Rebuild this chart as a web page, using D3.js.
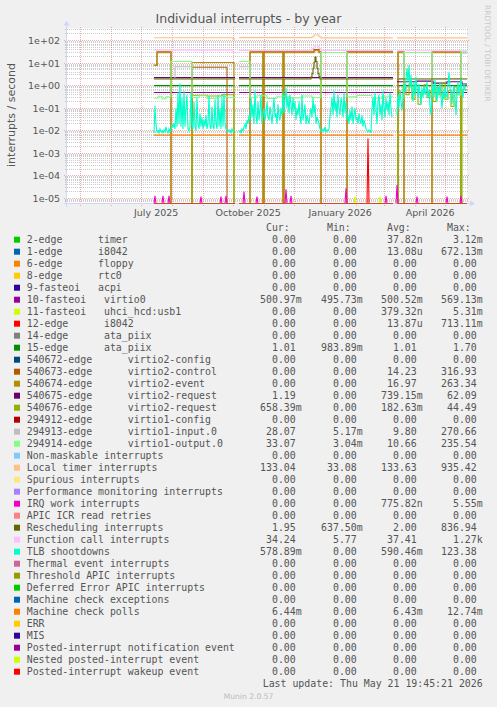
<!DOCTYPE html>
<html><head><meta charset="utf-8">
<script src="https://cdn.jsdelivr.net/npm/d3@7/dist/d3.min.js"></script>
<style>
body{margin:0;background:#F0F0F0;}
svg{display:block}
text{white-space:pre}
</style>
</head><body>
<svg id="chart" width="497" height="707"></svg>
<script>
// ---------- texts ----------
const titleText = "Individual interrupts - by year";
const yAxisLabel = "interrupts / second";
const sideText = "RRDTOOL / TOBI OETIKER";
const footerText = "Munin 2.0.57";
const lastUpdate = "Last update: Thu May 21 19:45:21 2026";

// ---------- axes ----------
const startDate = new Date(2025, 3, 17, 19, 45);   // 400-day window
const endDate = new Date(2026, 4, 22, 19, 45);
const yTickValues = [1e2, 1e1, 1e0, 1e-1, 1e-2, 1e-3, 1e-4, 1e-5];
const yTickLabels = ["1e+02", "1e+01", "1e+00", "1e-01", "1e-02", "1e-03", "1e-04", "1e-05"];
const xTickLabels = ["July 2025", "October 2025", "January 2026", "April 2026"];
const xTickDates = ["2025-07-16", "2025-10-16", "2026-01-16", "2026-04-16"];

// ---------- legend ----------
const seriesLabels = [
  "2-edge      timer", "1-edge      i8042", "6-edge      floppy", "8-edge      rtc0",
  "9-fasteoi   acpi", "10-fasteoi   virtio0", "11-fasteoi   uhci_hcd:usb1", "12-edge      i8042",
  "14-edge      ata_piix", "15-edge      ata_piix",
  "540672-edge      virtio2-config", "540673-edge      virtio2-control", "540674-edge      virtio2-event",
  "540675-edge      virtio2-request", "540676-edge      virtio2-request", "294912-edge      virtio1-config",
  "294913-edge      virtio1-input.0", "294914-edge      virtio1-output.0",
  "Non-maskable interrupts", "Local timer interrupts", "Spurious interrupts",
  "Performance monitoring interrupts", "IRQ work interrupts", "APIC ICR read retries",
  "Rescheduling interrupts", "Function call interrupts", "TLB shootdowns", "Thermal event interrupts",
  "Threshold APIC interrupts", "Deferred Error APIC interrupts", "Machine check exceptions",
  "Machine check polls", "ERR", "MIS", "Posted-interrupt notification event",
  "Nested posted-interrupt event", "Posted-interrupt wakeup event"
];
const seriesColors = [
  "#00CC00", "#0066B3", "#FF8000", "#FFCC00", "#330099", "#990099", "#CCFF00", "#FF0000",
  "#808080", "#008F00", "#00487D", "#B35A00", "#B38F00", "#6B006B", "#8FB300", "#B30000",
  "#BEBEBE", "#80FF80", "#80C9FF", "#FFC080", "#FFE680", "#AA80FF", "#EE00CC", "#FF8080",
  "#666600", "#FFBFFF", "#00FFCC", "#CC6699", "#999900", "#00CC00", "#0066B3", "#FF8000",
  "#FFCC00", "#330099", "#990099", "#CCFF00", "#FF0000"
];
const curValues = ["0.00","0.00","0.00","0.00","0.00","500.97m","0.00","0.00","0.00","1.01","0.00","0.00","0.00","1.19","658.39m","0.00","28.07","33.07","0.00","133.04","0.00","0.00","0.00","0.00","1.95","34.24","578.89m","0.00","0.00","0.00","0.00","6.44m","0.00","0.00","0.00","0.00","0.00"];
const minValues = ["0.00","0.00","0.00","0.00","0.00","495.73m","0.00","0.00","0.00","983.89m","0.00","0.00","0.00","0.00","0.00","0.00","5.17m","3.04m","0.00","33.08","0.00","0.00","0.00","0.00","637.50m","5.77","0.00","0.00","0.00","0.00","0.00","0.00","0.00","0.00","0.00","0.00","0.00"];
const avgValues = ["37.82n","13.08u","0.00","0.00","0.00","500.52m","379.32n","13.87u","0.00","1.01","0.00","14.23","16.97","739.15m","182.63m","0.00","9.80","10.66","0.00","133.63","0.00","0.00","775.82n","0.00","2.00","37.41","590.46m","0.00","0.00","0.00","0.00","6.43m","0.00","0.00","0.00","0.00","0.00"];
const maxValues = ["3.12m","672.13m","0.00","0.00","0.00","569.13m","5.31m","713.11m","0.00","1.70","0.00","316.93","263.34","62.09","44.49","0.00","270.66","235.54","0.00","935.42","0.00","0.00","5.55m","0.00","836.94","1.27k","123.38","0.00","0.00","0.00","0.00","12.74m","0.00","0.00","0.00","0.00","0.00"];

// ---------- data (day = days since window start; step series: value holds until next day; null = no data) ----------
const dataEndDay = 400;
const virtio0Days = [87, 168, 172, 326, 330];
const virtio0Vals = [0.5, null, 0.5, null, 0.5];
const ataPiixDays = [87, 168, 172, 326, 330];
const ataPiixVals = [1.01, null, 1.01, null, 1.01];
const mcePollDays = [87, 168, 172, 326, 330];
const mcePollVals = [0.0064, null, 0.0064, null, 0.0064];
const localTimerDays = [87, 166, 168, 172, 245, 247, 252, 254, 326, 330];
const localTimerVals = [135, 120, null, 137, 150, 180, 150, 133, null, 133];
const funcCallDays = [87, 166, 168, 172, 245, 247, 252, 254, 326, 330];
const funcCallVals = [38, 30, null, 37, 45, 58, 45, 37, null, 36];
const reschedDays = [87, 168, 172, 244, 245, 246, 247, 248, 249, 250, 251, 252, 253, 326, 330];
const reschedVals = [2.0, null, 2.0, 2.4, 3.5, 6, 11, 19, 12, 6, 3.5, 2.5, 2.0, null, 2.0];
const v2controlDays = [87, 90, 104, 125, 160, 168, 172, 183, 196, 197, 216, 217, 247, 252, 254, 280, 326, 330, 331, 337, 365, 394];
const v2controlVals = [8, 32, 0, 6.6, 0, null, 0, 32, 0, 32, 0, 32, 40, 32, 0, 32, null, 0, 32, 0, 32, 0];
const v2eventDays = [87, 90, 104, 125, 167, 168, 172, 183, 196, 197, 216, 217, 247, 252, 254, 280, 326, 330, 331, 337, 365, 394];
const v2eventVals = [8, 29, 0, 10.7, 0, null, 0, 29, 0, 29, 0, 29, 36, 29, 0, 29, null, 0, 29, 0, 29, 0];
const v2requestADays = [87, 168, 172, 326, 330, 350, 366, 380, 395];
const v2requestAVals = [2.3, null, 2.3, null, 1.5, 1.6, 1.3, 1.5, 1.2];
const v2requestBDays = [87, 125, 140, 155, 167, 168, 172, 326, 330, 331, 333, 336, 339, 342, 345, 348, 351, 354, 357, 360, 363, 366, 369, 372, 375, 378, 381, 384, 387, 390, 394, 395];
const v2requestBVals = [0, 0.38, 0.35, 0.4, 0, null, 0, null, 0, 0.6, 0.3, 0.9, 0.4, 1.2, 0.25, 0.7, 0.15, 0.5, 1.1, 0.3, 0.6, 0.2, 0.8, 0.4, 1.3, 0.25, 0.6, 0.12, 0.9, 0.4, 0, 0.66];
const v1inputDays = [87, 108, 125, 168, 172, 183, 254, 280, 326, 330, 337, 365, 394];
const v1inputVals = [2.1, 7, 2.1, null, 7, 2.1, 30, 2.1, null, 2.1, 30, 2.1, 28];
const v1outputDays = [87, 91, 95, 99, 104, 125, 132, 140, 150, 160, 168, 172, 183, 190, 200, 210, 222, 235, 245, 254, 280, 290, 305, 315, 326, 330, 337, 365, 375, 385, 394];
const v1outputVals = [0.28, 0.34, 0.26, 0.32, 12, 0.3, 0.36, 0.27, 0.33, 0.3, null, 12, 0.3, 0.36, 0.27, 0.34, 0.29, 0.35, 0.3, 30, 0.32, 0.37, 0.28, 0.34, null, 0.3, 30, 0.35, 0.28, 0.4, 33];
// noisy series, one value per day from day 87 (null = no data)
const tlbStartDay = 87;
const tlbValues = [
  0.008,0.13,0.02,0.009,0.01,0.008,0.012,0.009,0.01,0.008,
  0.011,0.009,0.015,0.01,0.008,0.012,0.009,0.01,0.02,0.015,
  0.02,0.012,0.1,0.015,0.5,0.02,1.3,0.015,0.3,0.012,
  0.6,0.015,0.1,0.4,0.012,0.01,0.015,0.5,0.02,0.012,
  0.2,0.015,0.01,0.3,0.02,0.012,0.06,0.015,0.04,0.012,
  0.03,0.015,0.05,0.012,0.02,0.35,0.015,0.012,0.12,0.015,
  0.012,0.25,0.02,0.012,0.4,0.015,0.1,0.012,0.3,0.015,
  0.5,0.02,0.012,0.01,0.009,0.011,0.01,0.008,0.012,0.009,
  0.01,
  null,null,null,null,
  0.009,0.01,0.008,0.012,0.01,0.015,0.02,0.012,0.03,0.02,
  0.05,0.03,0.3,0.04,0.15,0.02,0.6,0.05,0.02,0.2,
  0.03,0.08,0.4,0.02,0.05,0.1,0.03,0.06,0.2,0.04,
  0.03,0.12,0.05,0.02,0.08,0.3,0.04,0.06,0.02,0.15,
  0.04,0.03,0.1,0.05,0.5,0.06,0.25,0.8,0.1,0.3,
  0.06,0.4,0.15,0.05,0.3,0.08,0.2,0.03,0.1,0.05,
  0.2,0.04,0.02,0.4,0.03,0.06,0.15,0.02,0.05,0.03,
  0.02,0.05,0.1,0.04,0.3,0.06,0.15,0.02,0.04,0.03,
  0.02,0.012,0.01,0.009,0.012,0.01,0.015,0.009,0.011,0.01,
  0.012,0.04,0.1,0.3,0.05,0.6,0.08,0.2,0.04,0.4,
  0.1,0.05,0.3,0.15,0.04,0.5,0.06,0.2,0.03,0.05,
  0.02,0.08,0.03,0.12,0.02,0.05,0.1,0.03,0.04,0.02,
  0.06,0.03,0.02,0.05,0.015,0.03,0.02,0.012,0.01,0.009,
  0.011,0.01,0.008,0.1,0.3,0.05,0.5,0.1,0.02,0.2,
  0.4,0.05,0.15,0.03,0.6,0.1,0.04,0.3,0.08,0.2,
  0.05,0.5,0.1,0.04,
  null,null,null,null,
  0.05,0.4,0.1,0.6,0.2,0.08,0.3,1.2,0.5,2,
  6,1.5,8,0.8,3,0.5,0.2,1.5,0.4,2.5,
  0.7,0.3,1.2,0.5,0.15,0.8,0.3,1,0.4,0.6,
  1.5,0.3,0.7,0.12,0.05,0.4,1.2,0.3,2,0.6,
  0.2,0.9,0.4,1.5,0.3,0.1,0.6,0.25,0.8,0.4,
  0.3,1.2,4,0.8,0.5,0.15,0.6,1,0.3,0.05,
  0.5,1.5,0.4,0.8,2,0.6,0.3,1.2,0.7,0.58
];
// spikes (single-day peaks)
const irqWorkDays = [88, 96, 102, 134, 154, 159, 177, 190, 219, 224, 279, 319, 330, 350, 380, 394];
const irqWorkVals = [1.3e-5, 1.3e-5, 1.3e-5, 1.2e-5, 1.2e-5, 1.3e-5, 2e-5, 1.2e-5, 2.5e-5, 1.3e-5, 2.8e-5, 1.3e-5, 3.9e-5, 1.2e-5, 1.2e-5, 1.3e-5];
const uhciDays = [288, 313];
const uhciVals = [1.2e-5, 1.2e-5];
const i8042Days = [301];
const i8042Vals = [0.0045];
// zero baseline for all idle series over the data range
const idleDays = [87, 168, 172, 326, 330];
const idleVals = [0, null, 0, null, 0];

// ---------- layout ----------
const svg = d3.select("#chart");
const W = 497, H = 707;
const pl = 67, pr = 467, pt = 28.5, pb = 203.5;
const gridColor = "rgba(143,143,143,0.45)";
const mgridColor = "rgba(222,79,79,0.45)";
const axisColor = "#CFD6F8";
const fontColor = "#555";

const x = d3.scaleTime().domain([startDate, endDate]).range([pl, pr]);
const y = d3.scaleLog().domain([Math.pow(10, -5.231), Math.pow(10, 2.542)]).range([pb, pt]).clamp(true);
const dayToDate = d => d3.timeMinute.offset(startDate, d * 1440);
const yv = v => (v <= 0 ? pb : y(v));
const snap = v => Math.round(v - 0.5) + 0.5;

svg.append("rect").attr("width", W).attr("height", H).attr("fill", "#F0F0F0");
svg.append("rect").attr("x", pl).attr("y", pt).attr("width", pr - pl).attr("height", pb - pt).attr("fill", "#FFFFFF");

// grid
const gGrid = svg.append("g").attr("shape-rendering", "crispEdges");
const minorY = [];
for (let k = -6; k <= 2; k++) for (let m = 2; m <= 9; m++) minorY.push(m * Math.pow(10, k));
minorY.filter(v => y(v) > pt && y(v) < pb).forEach(v => {
  gGrid.append("line").attr("x1", pl - 2).attr("x2", pr + 2).attr("y1", snap(y(v))).attr("y2", snap(y(v)))
    .attr("stroke", gridColor).attr("stroke-width", 1).attr("stroke-dasharray", "1,1");
});
const months = d3.timeMonth.range(startDate, endDate);
months.forEach(d => {
  gGrid.append("line").attr("x1", snap(x(d))).attr("x2", snap(x(d))).attr("y1", pt - 2).attr("y2", pb + 2)
    .attr("stroke", mgridColor).attr("stroke-width", 1).attr("stroke-dasharray", "1,1");
});
yTickValues.forEach(v => {
  gGrid.append("line").attr("x1", pl - 3).attr("x2", pr + 2).attr("y1", snap(y(v))).attr("y2", snap(y(v)))
    .attr("stroke", mgridColor).attr("stroke-width", 1).attr("stroke-dasharray", "1,1");
});

// axes
const gAxis = svg.append("g");
gAxis.append("line").attr("x1", pl - 0.5).attr("x2", pl - 0.5).attr("y1", pb + 3).attr("y2", pt - 4)
  .attr("stroke", axisColor).attr("shape-rendering", "crispEdges");
gAxis.append("line").attr("x1", pl - 3).attr("x2", pr + 4).attr("y1", pb).attr("y2", pb)
  .attr("stroke", axisColor).attr("shape-rendering", "crispEdges");
gAxis.append("path").attr("d", `M${pl - 3.5},${pt - 3} L${pl - 0.5},${pt - 8} L${pl + 2.5},${pt - 3} Z`).attr("fill", axisColor);
gAxis.append("path").attr("d", `M${pr + 3},${pb - 3} L${pr + 8},${pb} L${pr + 3},${pb + 3} Z`).attr("fill", axisColor);

// tick labels
yTickValues.forEach((v, i) => {
  svg.append("text").attr("x", 60).attr("y", y(v) + 3.4).attr("text-anchor", "end")
    .attr("font-family", "DejaVu Sans").attr("font-size", 9.5).attr("fill", fontColor).text(yTickLabels[i]);
});
xTickDates.forEach((d, i) => {
  svg.append("text").attr("x", x(d3.isoParse(d + "T00:00:00"))).attr("y", 215.8).attr("text-anchor", "middle")
    .attr("font-family", "DejaVu Sans").attr("font-size", 9.5).attr("fill", fontColor).text(xTickLabels[i]);
});

// title and labels
svg.append("text").attr("x", 248.5).attr("y", 22.8).attr("text-anchor", "middle")
  .attr("font-family", "DejaVu Sans").attr("font-size", 12.5).attr("fill", fontColor).text(titleText);
svg.append("text").attr("transform", "translate(14.5,115) rotate(-90)").attr("text-anchor", "middle")
  .attr("font-family", "DejaVu Sans").attr("font-size", 11).attr("fill", fontColor).text(yAxisLabel);
svg.append("text").attr("transform", "translate(485,5) rotate(90)").attr("text-anchor", "start")
  .attr("font-family", "DejaVu Sans").attr("font-size", 7.5).attr("fill", "#C8C8C8").text(sideText);

// ---------- series ----------
const gData = svg.append("g");
svg.append("clipPath").attr("id", "plotclip").append("rect")
  .attr("x", pl).attr("y", pt).attr("width", pr - pl).attr("height", pb - pt);
gData.attr("clip-path", "url(#plotclip)");

function stepPoints(days, vals) {
  const pts = [];
  for (let i = 0; i < days.length; i++) {
    const d0 = days[i], d1 = i + 1 < days.length ? days[i + 1] : dataEndDay;
    if (vals[i] === null) { pts.push({ d: d0, v: null }); continue; }
    pts.push({ d: d0, v: vals[i] });
    pts.push({ d: d1, v: vals[i] });
  }
  return pts;
}
function spikePoints(days, vals) {
  const pts = [];
  days.forEach((d, i) => { pts.push({ d: d - 1, v: 0 }, { d: d, v: vals[i] }, { d: d + 1, v: 0 }, { d: d + 1, v: null }); });
  return pts;
}
function seqPoints(start, vals) {
  return vals.map((v, i) => ({ d: start + i, v: v }));
}
const line = d3.line().defined(p => p.v !== null).x(p => x(dayToDate(p.d))).y(p => yv(p.v));
const idx = name => seriesLabels.indexOf(name);

const seriesData = seriesLabels.map(() => stepPoints(idleDays, idleVals));
seriesData[idx("10-fasteoi   virtio0")] = stepPoints(virtio0Days, virtio0Vals);
seriesData[idx("11-fasteoi   uhci_hcd:usb1")] = spikePoints(uhciDays, uhciVals);
seriesData[idx("12-edge      i8042")] = spikePoints(i8042Days, i8042Vals);
seriesData[idx("15-edge      ata_piix")] = stepPoints(ataPiixDays, ataPiixVals);
seriesData[idx("540673-edge      virtio2-control")] = stepPoints(v2controlDays, v2controlVals);
seriesData[idx("540674-edge      virtio2-event")] = stepPoints(v2eventDays, v2eventVals);
seriesData[idx("540675-edge      virtio2-request")] = stepPoints(v2requestADays, v2requestAVals);
seriesData[idx("540676-edge      virtio2-request")] = stepPoints(v2requestBDays, v2requestBVals);
seriesData[idx("294913-edge      virtio1-input.0")] = stepPoints(v1inputDays, v1inputVals);
seriesData[idx("294914-edge      virtio1-output.0")] = stepPoints(v1outputDays, v1outputVals);
seriesData[idx("Local timer interrupts")] = stepPoints(localTimerDays, localTimerVals);
seriesData[idx("IRQ work interrupts")] = spikePoints(irqWorkDays, irqWorkVals);
seriesData[idx("Rescheduling interrupts")] = stepPoints(reschedDays, reschedVals);
seriesData[idx("Function call interrupts")] = stepPoints(funcCallDays, funcCallVals);
seriesData[idx("TLB shootdowns")] = seqPoints(tlbStartDay, tlbValues);
seriesData[idx("Machine check polls")] = stepPoints(mcePollDays, mcePollVals);

seriesData.forEach((pts, i) => {
  gData.append("path").attr("d", line(pts)).attr("fill", "none")
    .attr("stroke", seriesColors[i]).attr("stroke-width", 1.1).attr("stroke-linejoin", "miter");
});

// ---------- legend ----------
const cw = 5.96;
const colRight = [301.7, 362.7, 422.7, 482.7];
const colHeads = ["Cur:", "Min:", "Avg:", "Max:"];
const mono = "DejaVu Sans Mono";
const legY0 = 239.7, legStep = 12;
colHeads.forEach((h, j) => {
  svg.append("text").attr("x", colRight[j] - 2 * cw).attr("y", legY0 - legStep + 3.6).attr("text-anchor", "end")
    .attr("font-family", mono).attr("font-size", 9.9).attr("fill", fontColor).text(h);
});
const cols = [curValues, minValues, avgValues, maxValues];
seriesLabels.forEach((lab, i) => {
  const cy = legY0 + i * legStep;
  svg.append("rect").attr("x", 14).attr("y", cy - 3).attr("width", 6).attr("height", 6).attr("fill", seriesColors[i]);
  svg.append("text").attr("x", 26.7).attr("y", cy + 3.6).attr("font-family", mono).attr("font-size", 9.9)
    .attr("fill", fontColor).text(lab);
  cols.forEach((arr, j) => {
    const s = arr[i];
    const hasSuffix = /[a-zA-Z]$/.test(s);
    svg.append("text").attr("x", colRight[j] - (hasSuffix ? 0 : cw)).attr("y", cy + 3.6).attr("text-anchor", "end")
      .attr("font-family", mono).attr("font-size", 9.9).attr("fill", fontColor).text(s);
  });
});
svg.append("text").attr("x", 482.7).attr("y", legY0 + 37 * legStep + 3.6).attr("text-anchor", "end")
  .attr("font-family", mono).attr("font-size", 9.9).attr("fill", fontColor).text(lastUpdate);
svg.append("text").attr("x", 248.5).attr("y", 698.5).attr("text-anchor", "middle")
  .attr("font-family", "DejaVu Sans").attr("font-size", 7.6).attr("fill", "#BBBBBB").text(footerText);
</script>
</body></html>
